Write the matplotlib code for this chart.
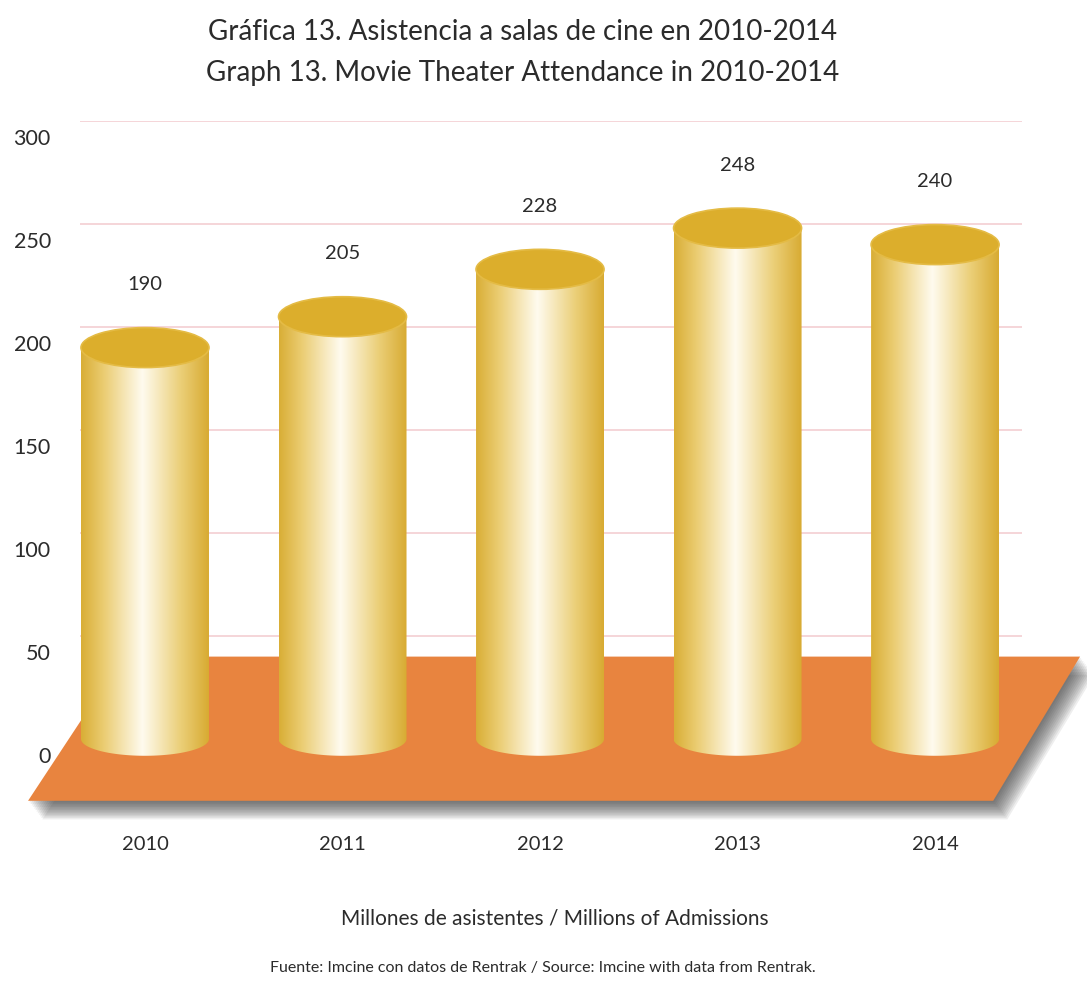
import numpy as np
import matplotlib
matplotlib.use("Agg")
import matplotlib.pyplot as plt
from matplotlib.colors import LinearSegmentedColormap
from matplotlib.patches import Ellipse, Polygon
from matplotlib.transforms import ScaledTranslation

# Attendance, millions of admissions
years = ["2010", "2011", "2012", "2013", "2014"]
attendance = [190, 205, 228, 248, 240]
y_ticks = [0, 50, 100, 150, 200, 250, 300]

plt.rcParams["font.family"] = ["Lato", "DejaVu Sans"]
text_color = "#2b2b2b"

fig = plt.figure(figsize=(10.87, 9.87), dpi=100)
W, H = 1087, 987
px_per_unit = (740 - 122) / 300
y_min = -35
bottom_px = 740 - y_min * px_per_unit
# axes: gridlines from x=80..1022 px, y=0 at 740 px, y=300 at 122 px
ax = fig.add_axes([80 / W, 1 - bottom_px / H, (1022 - 80) / W, (bottom_px - 122) / H])
for s in ax.spines.values():
    s.set_visible(False)

# gridlines
for t in y_ticks[1:]:
    ax.axhline(t, color="#f4d2d6", lw=1.3, zorder=0.5)

# y tick labels, set a bit lower than their lines
ax.set_yticks(y_ticks)
ax.set_yticklabels([str(t) for t in y_ticks], fontsize=15.5, color=text_color)
ax.tick_params(axis="y", length=0, pad=21)
offset = ScaledTranslation(0, -15 / 100, fig.dpi_scale_trans)
for lbl in ax.get_yticklabels():
    lbl.set_transform(lbl.get_transform() + offset)

ax.set_xticks(range(len(years)))
ax.set_xticklabels([])
ax.tick_params(axis="x", length=0)

# orange floor with soft shadow
floor = [(-0.111, 40), (4.734, 40), (4.294, -30), (-0.592, -30)]
for k in range(12, 0, -1):
    dx, dy = 0.006 * k, -0.75 * k
    sh = [(px + dx, py + dy) for px, py in floor]
    ax.add_patch(Polygon(sh, closed=True, facecolor="#3a3a3a", alpha=0.085,
                         edgecolor="none", clip_on=False, zorder=0.8))
ax.add_patch(Polygon(floor, closed=True, facecolor="#e8843f",
                     edgecolor="none", clip_on=False, zorder=1))

# cylinders
bar_w = 0.648
cap_h = 19.4
body_cmap = LinearSegmentedColormap.from_list(
    "gold", [(0.0, "#d9ae36"), (0.18, "#ebcd73"), (0.48, "#fffbef"),
             (0.78, "#ebcf78"), (1.0, "#d8ab32")])
grad = np.linspace(0, 1, 256).reshape(1, -1)
theta = np.linspace(np.pi, 2 * np.pi, 60)

for i, v in enumerate(attendance):
    x0, x1 = i - bar_w / 2, i + bar_w / 2
    im = ax.imshow(grad, cmap=body_cmap, aspect="auto",
                   extent=[x0, x1, -cap_h / 2, v], zorder=2)
    outline = [(x0, v), (x0, 0)]
    outline += [(i + bar_w / 2 * np.cos(t), cap_h * 0.42 * np.sin(t)) for t in theta]
    outline += [(x1, v)]
    clip = Polygon(outline, closed=True, transform=ax.transData,
                   facecolor="none", edgecolor="none")
    ax.add_patch(clip)
    im.set_clip_path(clip)
    ax.add_patch(Ellipse((i, v), bar_w, cap_h, facecolor="#dcae2c",
                         edgecolor="#e4bb45", lw=1.2, zorder=3))
    ax.text(i, v + 31, str(v), ha="center", va="center", fontsize=14.5,
            color=text_color, zorder=4)

ax.set_xlim(-0.329, 4.44)
ax.set_ylim(y_min, 300)

# year labels
for i, yr in enumerate(years):
    fig.text((145 + 197.5 * i) / W, 1 - 845 / H, yr, ha="center", va="center",
             fontsize=14.5, color=text_color)

fig.text(523 / W, 1 - 32 / H, "Gráfica 13. Asistencia a salas de cine en 2010-2014",
         ha="center", va="center", fontsize=20, color=text_color)
fig.text(523 / W, 1 - 73 / H, "Graph 13. Movie Theater Attendance in 2010-2014",
         ha="center", va="center", fontsize=20, color=text_color)
fig.text(555 / W, 1 - 919 / H, "Millones de asistentes / Millions of Admissions",
         ha="center", va="center", fontsize=15, color=text_color)
fig.text(543 / W, 1 - 968 / H,
         "Fuente: Imcine con datos de Rentrak / Source: Imcine with data from Rentrak.",
         ha="center", va="center", fontsize=11.5, color=text_color)

fig.savefig("out.png", dpi=100, facecolor="white")
